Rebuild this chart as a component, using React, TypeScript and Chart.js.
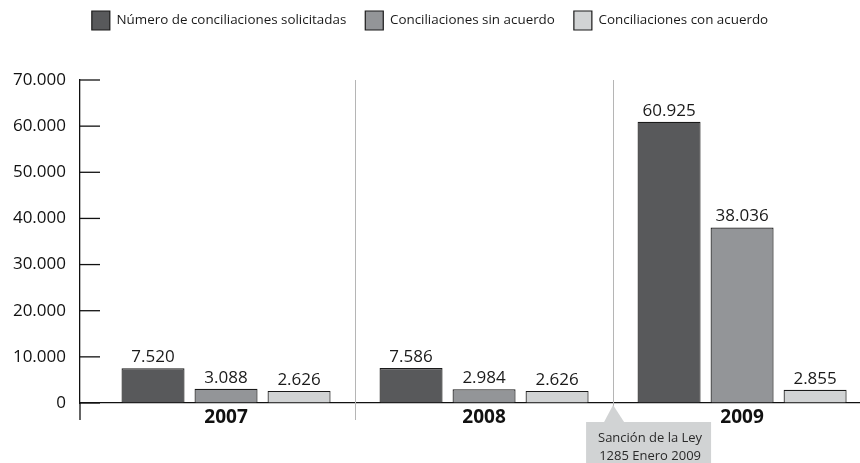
import React, { useEffect, useRef } from "react";
import { Chart, registerables } from "chart.js";

Chart.register(...registerables);

const years = ["2007", "2008", "2009"];
const seriesNames = [
  "Número de conciliaciones solicitadas",
  "Conciliaciones sin acuerdo",
  "Conciliaciones con acuerdo",
];
const solicitadas = [7520, 7586, 60925];
const sinAcuerdo = [3088, 2984, 38036];
const conAcuerdo = [2626, 2626, 2855];
const yTicks = [0, 10000, 20000, 30000, 40000, 50000, 60000, 70000];
const dividerPositions = [0.5, 1.5];
const annotationLines = ["Sanción de la Ley", "1285 Enero 2009"];
const annotationAt = 1.5;
const seriesColors = ["#58595b", "#939598", "#d1d3d4"];

const FONT = "'Open Sans', sans-serif";
const fmt = (n: number) => String(Math.round(n)).replace(/\B(?=(\d{3})+(?!\d))/g, ".");

const legendHeightPlugin = {
  id: "legendHeight",
  beforeLayout(chart: any) {
    const lg = chart.legend;
    if (lg && !lg.__patched) {
      const orig = lg.fit;
      lg.fit = function () {
        orig.call(this);
        this.height = 88;
      };
      lg.__patched = true;
    }
  },
};

const decorPlugin = {
  id: "decor",
  beforeDatasetsDraw(chart: any) {
    const { ctx, chartArea, scales } = chart;
    ctx.save();
    ctx.strokeStyle = "#b5b5b5";
    ctx.lineWidth = 1;
    dividerPositions.forEach((v) => {
      const x = Math.round(scales.x.getPixelForValue(v)) + 0.5;
      ctx.beginPath();
      ctx.moveTo(x, chartArea.top);
      ctx.lineTo(x, chartArea.bottom + 17);
      ctx.stroke();
    });
    ctx.restore();
  },
  afterDatasetsDraw(chart: any) {
    const { ctx, chartArea, scales } = chart;
    ctx.save();
    // value labels
    ctx.font = `17px ${FONT}`;
    ctx.fillStyle = "#1a1a1a";
    ctx.textAlign = "center";
    ctx.textBaseline = "alphabetic";
    chart.data.datasets.forEach((ds: any, di: number) => {
      const meta = chart.getDatasetMeta(di);
      meta.data.forEach((el: any, i: number) => {
        ctx.fillText(fmt(ds.data[i].y), el.x, el.y - 6);
      });
    });
    // y tick marks (inside) and axis extension
    const yS = scales.y;
    ctx.strokeStyle = "#111";
    ctx.lineWidth = 1.3;
    yS.ticks.forEach((t: any) => {
      const y = yS.getPixelForValue(t.value);
      ctx.beginPath();
      ctx.moveTo(chartArea.left, y);
      ctx.lineTo(chartArea.left + 20, y);
      ctx.stroke();
    });
    ctx.beginPath();
    ctx.moveTo(chartArea.left, chartArea.bottom);
    ctx.lineTo(chartArea.left, chartArea.bottom + 17);
    ctx.stroke();
    // annotation
    const px = scales.x.getPixelForValue(annotationAt);
    const top = chartArea.bottom + 19;
    ctx.fillStyle = "#d1d3d4";
    ctx.beginPath();
    ctx.moveTo(px - 9, top);
    ctx.lineTo(px, chartArea.bottom + 2);
    ctx.lineTo(px + 11, top);
    ctx.closePath();
    ctx.fill();
    ctx.fillRect(px - 27, top, 125, 60);
    ctx.fillStyle = "#2a2a2a";
    ctx.font = `13px ${FONT}`;
    ctx.textBaseline = "middle";
    annotationLines.forEach((line, i) => {
      ctx.fillText(line, px + 37, top + 16 + i * 18);
    });
    ctx.restore();
  },
};

export default function App() {
  const ref = useRef<HTMLCanvasElement | null>(null);
  useEffect(() => {
    if (!ref.current) return;
    Chart.defaults.font.family = FONT;
    const series = [solicitadas, sinAcuerdo, conAcuerdo];
    const chart = new Chart(ref.current, {
      type: "bar",
      data: {
        datasets: series.map((vals, si) => ({
          label: seriesNames[si],
          data: vals.map((v, i) => ({ x: i, y: v })),
          backgroundColor: seriesColors[si],
          borderColor: "#1a1a1a",
          borderWidth: 1.2,
          categoryPercentage: 0.849,
          barPercentage: 0.863,
        })),
      },
      options: {
        animation: false,
        responsive: false,
        layout: { padding: { top: -8, left: 0, right: 0, bottom: 0 } },
        plugins: {
          legend: {
            position: "top",
            labels: {
              boxWidth: 18,
              boxHeight: 19,
              padding: 19,
              color: "#1a1a1a",
              font: { size: 13.4, family: FONT },
            },
          },
          tooltip: { enabled: false },
        },
        scales: {
          x: {
            type: "linear",
            offset: false,
            min: -0.566,
            max: 2.457,
            afterBuildTicks: (s: any) => {
              s.ticks = years.map((_, i) => ({ value: i }));
            },
            ticks: {
              callback: (v: any) => years[v] ?? "",
              font: { size: 19, weight: "bold", family: FONT },
              color: "#111",
              padding: 3,
              autoSkip: false,
              maxRotation: 0,
            },
            grid: { offset: false, drawOnChartArea: false, drawTicks: false },
            border: { display: true, color: "#111", width: 1.3 },
            afterFit: (s: any) => {
              s.height = 60;
            },
          },
          y: {
            min: 0,
            max: 70000,
            afterBuildTicks: (s: any) => {
              s.ticks = yTicks.map((v) => ({ value: v }));
            },
            ticks: {
              callback: (v: any) => fmt(Number(v)),
              font: { size: 17, family: FONT },
              color: "#111",
              padding: 14,
            },
            grid: { drawOnChartArea: false, drawTicks: false },
            border: { display: true, color: "#111", width: 1.3 },
            afterFit: (s: any) => {
              s.width = 80;
            },
          },
        },
      } as any,
      plugins: [legendHeightPlugin, decorPlugin],
    });
    return () => chart.destroy();
  }, []);
  return (
    <div style={{ position: "absolute", left: 0, top: 0, width: 860, height: 463, background: "#fff" }}>
      <canvas ref={ref} width={860} height={463} style={{ width: 860, height: 463 }} />
    </div>
  );
}
